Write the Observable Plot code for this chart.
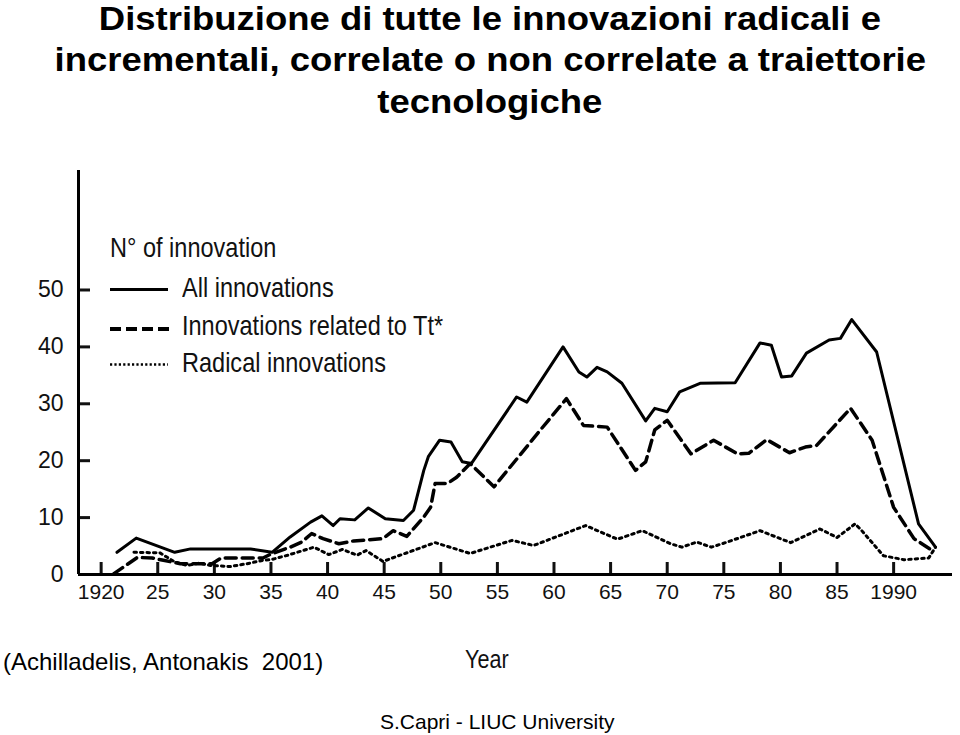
<!DOCTYPE html>
<html>
<head>
<meta charset="utf-8">
<script src="https://cdn.jsdelivr.net/npm/d3@7"></script>
<script src="https://cdn.jsdelivr.net/npm/@observablehq/plot@0.6"></script>
<style>
  html, body { margin: 0; padding: 0; background: #fff; }
  body { width: 960px; height: 735px; position: relative; overflow: hidden; font-family: "Liberation Sans", Arial, sans-serif; color: #000; }
  .tline { position: absolute; left: 20px; width: 940px; text-align: center; white-space: nowrap;
    font-weight: bold; font-size: 33px; line-height: 37px; }
  .tline span { display: inline-block; transform: scaleX(1.105); transform-origin: center; }
  #chart { position: absolute; top: 150px; left: 0; }
  .cond { position: absolute; white-space: nowrap; font-size: 28px; line-height: 28px; color: #111;
    transform: scaleX(0.84); transform-origin: left top; }
  .swatch { position: absolute; left: 110px; }
  #source { position: absolute; left: 3px; top: 650px; font-size: 24px; line-height: 24px; white-space: nowrap; }
  #footer { position: absolute; left: 380px; top: 710px; font-size: 21px; white-space: nowrap; }
</style>
</head>
<body>
<div class="tline" style="top:0px"><span>Distribuzione di tutte le innovazioni radicali e</span></div>
<div class="tline" style="top:41px"><span>incrementali, correlate o non correlate a traiettorie</span></div>
<div class="tline" style="top:83px"><span>tecnologiche</span></div>
<div id="chart"></div>

<div class="cond" style="left:110px; top:234px">N° of innovation</div>
<svg class="swatch" style="top:280px" width="60" height="20"><line x1="0" x2="58" y1="9.5" y2="9.5" stroke="#000" stroke-width="3"/></svg>
<div class="cond" style="left:182px; top:274px">All innovations</div>
<svg class="swatch" style="top:319px" width="60" height="20"><line x1="0" x2="59" y1="10" y2="10" stroke="#000" stroke-width="4" stroke-dasharray="11,5"/></svg>
<div class="cond" style="left:182px; top:312px">Innovations related to Tt*</div>
<svg class="swatch" style="top:355px" width="60" height="20"><line x1="0" x2="58" y1="9.5" y2="9.5" stroke="#000" stroke-width="2.5" stroke-dasharray="2.2,2.2"/></svg>
<div class="cond" style="left:182px; top:349px">Radical innovations</div>

<div id="source">(Achilladelis, Antonakis&nbsp; 2001)</div>
<div class="cond" style="left:465px; top:646px; font-size:26px; line-height:26px; transform: scaleX(0.83)">Year</div>
<div id="footer">S.Capri - LIUC University</div>
<script>
// All innovations (solid)
const allYears = [1921.4,1923.1,1926.5,1927.9,1933.2,1935.1,1936.7,1938.5,1939.5,1940.5,1941.1,1942.4,1943.6,1945.1,1946.7,1947.6,1948.5,1948.9,1949.9,1950.9,1951.9,1952.7,1956.7,1957.6,1960.8,1962.2,1962.9,1963.8,1964.7,1966.0,1968.1,1968.9,1970.0,1971.1,1972.9,1976.0,1978.2,1979.2,1980.1,1981.0,1982.3,1984.3,1985.3,1986.3,1988.5,1992.2,1993.7];
const allValues = [3.9,6.4,3.9,4.5,4.5,3.9,6.6,9.2,10.3,8.6,9.8,9.6,11.7,9.8,9.5,11.3,18.3,20.7,23.6,23.3,19.8,19.5,31.2,30.3,40.0,35.6,34.7,36.4,35.6,33.6,27.0,29.2,28.6,32.1,33.6,33.7,40.7,40.3,34.7,34.9,38.9,41.2,41.5,44.8,39.1,8.9,4.8];
// Innovations related to Tt* (dashed)
const ttYears = [1921.1,1923.2,1924.5,1925.5,1927.0,1929.8,1930.6,1934.3,1935.0,1936.7,1937.7,1938.6,1939.6,1941.0,1942.3,1944.9,1945.8,1947.0,1948.5,1949.1,1949.5,1950.6,1951.4,1952.6,1954.7,1958.8,1961.1,1962.6,1964.7,1967.2,1968.1,1968.9,1970.0,1972.1,1974.1,1976.2,1977.2,1978.8,1980.8,1982.2,1983.2,1986.2,1988.1,1990.0,1991.8,1993.2];
const ttValues = [0.1,3.0,2.9,2.5,1.9,1.9,2.9,2.9,3.6,4.8,5.7,7.2,6.3,5.4,5.9,6.3,7.7,6.7,10.1,11.8,16.0,16.0,17.1,19.5,15.4,25.4,30.9,26.2,25.9,18.3,19.8,25.4,27.1,21.2,23.6,21.2,21.3,23.7,21.4,22.4,22.7,29.2,23.6,11.8,6.3,4.5];
// Radical innovations (dotted)
const radYears = [1922.9,1925.2,1926.5,1927.6,1928.7,1929.6,1931.4,1932.9,1934.3,1935.0,1936.5,1938.8,1940.1,1941.3,1942.6,1943.4,1944.9,1946.7,1949.5,1952.6,1956.3,1958.2,1962.8,1965.6,1967.8,1970.3,1971.3,1972.6,1973.9,1975.3,1978.2,1980.9,1983.5,1985.0,1986.6,1987.1,1989.1,1990.9,1993.1,1993.7];
const radValues = [3.9,3.8,2.2,1.6,2.0,1.6,1.4,1.9,2.5,2.6,3.4,4.8,3.5,4.4,3.4,4.2,2.3,3.6,5.6,3.7,6.0,5.1,8.6,6.2,7.7,5.4,4.8,5.7,4.8,5.7,7.7,5.6,8.0,6.5,8.9,7.9,3.3,2.6,2.9,4.8];
// Axis ticks
const xTicks = [1920,1925,1930,1935,1940,1945,1950,1955,1960,1965,1970,1975,1980,1985,1990];
const xTickLabels = ["1920","25","30","35","40","45","50","55","60","65","70","75","80","85","1990"];
const yTicks = [0,10,20,30,40,50];

const toRows = (xs, ys) => xs.map((x, i) => ({year: x, value: ys[i]}));
const allRows = toRows(allYears, allValues);
const ttRows = toRows(ttYears, ttValues);
const radRows = toRows(radYears, radValues);

const chart = Plot.plot({
  width: 960,
  height: 470,
  marginTop: 20,
  marginBottom: 46,
  marginLeft: 78,
  marginRight: 8,
  style: {fontFamily: "'Liberation Sans', Arial, sans-serif", fontSize: "21px", color: "#111", background: "white"},
  x: {domain: [1918, 1995.2], label: null},
  y: {domain: [0, 71], label: null},
  marks: [
    Plot.axisX(xTicks, {tickSize: 12, dy: -12, tickPadding: 10, strokeWidth: 3,
      tickFormat: d => xTickLabels[xTicks.indexOf(d)], fontSize: 21, label: null}),
    Plot.axisY(yTicks, {anchor: "left", tickSize: 12, dx: 12, tickPadding: 15, strokeWidth: 3,
      fontSize: 23, label: null}),
    Plot.ruleY([0], {stroke: "#000", strokeWidth: 3}),
    Plot.ruleX([1918], {stroke: "#000", strokeWidth: 3}),
    Plot.line(radRows, {x: "year", y: "value", stroke: "#000", strokeWidth: 3, strokeDasharray: "2.5,4"}),
    Plot.line(ttRows, {x: "year", y: "value", stroke: "#000", strokeWidth: 3.5, strokeDasharray: "11,6"}),
    Plot.line(allRows, {x: "year", y: "value", stroke: "#000", strokeWidth: 3})
  ]
});
document.getElementById("chart").appendChild(chart);
</script>
</body>
</html>
